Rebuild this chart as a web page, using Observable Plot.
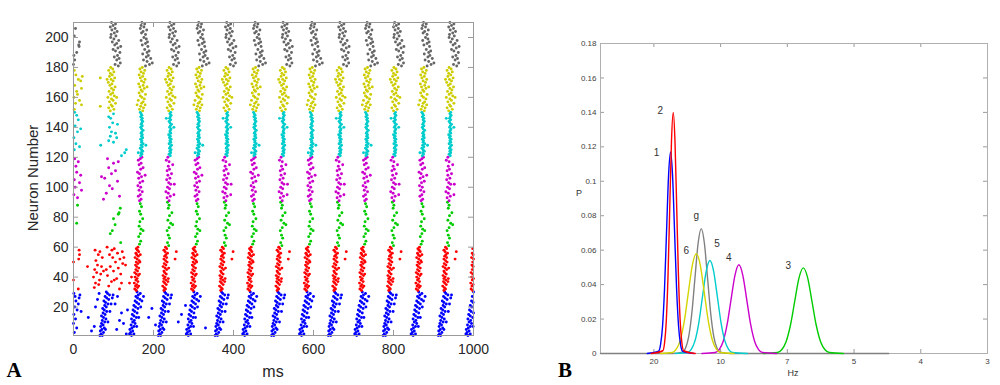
<!DOCTYPE html>
<html><head><meta charset="utf-8">
<script src="https://cdn.jsdelivr.net/npm/d3@7"></script>
<script src="https://cdn.jsdelivr.net/npm/@observablehq/plot@0.6"></script>
<style>
html,body{margin:0;padding:0;background:#fff;}
#wrap{position:relative;width:1000px;height:385px;overflow:hidden;font-family:"Liberation Sans",Arial,sans-serif;}
.panel{position:absolute;top:0;}
.lbl{position:absolute;white-space:nowrap;transform:translate(-50%,-50%);line-height:1;}
.plab{font-family:"Liberation Serif","DejaVu Serif",serif;font-weight:bold;font-size:21px;color:#000;}
</style></head><body>
<div id="wrap">
  <div class="panel" id="pa" style="left:0"></div>
  <div class="panel" id="pb" style="left:500px"></div>
  <div class="lbl" style="left:32px;top:178px;font-size:15px;color:#262626;transform:translate(-50%,-50%) rotate(-90deg);">Neuron Number</div>
  <div class="lbl" style="left:273px;top:372px;font-size:16px;color:#262626;">ms</div>
  <div class="lbl plab" style="left:14px;top:370px;">A</div>
  <div class="lbl" style="left:579px;top:193px;font-size:9px;color:#333;">P</div>
  <div class="lbl" style="left:793px;top:373px;font-size:9px;color:#333;">Hz</div>
  <div class="lbl plab" style="left:565px;top:370px;">B</div>
</div>
<script>
// ---------------- Panel A data ----------------
const msTicks = [0, 200, 400, 600, 800, 1000];
const neuronTicks = [20, 40, 60, 80, 100, 120, 140, 160, 180, 200];
const groupKeys = ["1", "2", "3", "4", "5", "6", "g"];
const groupFirstNeuron = [1, 31, 61, 91, 121, 151, 181];

// burst (cycle) times, ms, per group
const blueCycles = [96, 171, 242, 313, 384, 454, 525, 596, 667, 734, 804, 875, 942, 1012];
const redCycles = [171, 242, 313, 384, 454, 525, 596, 667, 734, 804, 875, 942, 1012];
const greenCycles = [171, 242, 313, 384, 454, 525, 596, 667, 734, 804, 875, 942];
const magentaCycles = [171, 242, 313, 384, 454, 525, 596, 667, 734, 804, 875, 942];
const cyanCycles = [171, 242, 313, 384, 454, 525, 596, 667, 734, 804, 875, 942];
const yellowCycles = [96, 171, 242, 313, 384, 454, 525, 596, 667, 734, 804, 875, 942];
const grayCycles = [96, 171, 242, 313, 384, 454, 525, 596, 667, 734, 804, 875, 942];

// typical burst patterns: [neuron within group, ms relative to burst]
const blueA = [[1,-30],[1,-24],[2,-27],[3,-21],[4,-29],[5,-25],[6,-19],[7,-28],[8,-22],[9,-26],[10,-18],[11,-24],[12,-15],[13,-21],[14,-26],[15,-17],[16,-22],[17,-13],[18,-19],[19,-23],[20,-14],[21,-18],[22,-10],[23,-16],[24,-20],[25,-8],[26,-13],[27,-17],[28,-6],[29,-11],[30,-14],[22,-2],[26,1],[17,-5],[10,-10],[28,3],[5,-16]];
const blueB = [[1,-26],[2,-31],[2,-20],[3,-28],[4,-23],[5,-30],[6,-25],[7,-20],[8,-27],[9,-17],[10,-23],[11,-19],[12,-26],[13,-14],[14,-20],[15,-24],[16,-12],[17,-18],[18,-22],[19,-10],[20,-16],[21,-20],[22,-8],[23,-13],[24,-17],[25,-5],[26,-11],[27,-15],[28,-9],[29,-4],[30,-12],[24,0],[27,4],[13,-8],[7,-13],[20,-3]];
const redA = [[1,-14],[2,-18],[3,-11],[4,-16],[5,-13],[6,-19],[7,-10],[8,-15],[9,-12],[10,-17],[11,-9],[12,-14],[13,-18],[14,-11],[15,-15],[16,-8],[17,-13],[18,-16],[19,-10],[20,-14],[21,-7],[22,-12],[23,-17],[24,-9],[25,-13],[26,-15],[27,-8],[28,-11],[29,-14],[30,-10],[4,-8],[12,-6],[20,-5],[25,-4]];
const redB = [[1,-16],[2,-12],[3,-15],[4,-19],[5,-10],[6,-14],[7,-17],[8,-11],[9,-16],[10,-13],[11,-18],[12,-10],[13,-14],[14,-16],[15,-9],[16,-13],[17,-18],[18,-11],[19,-15],[20,-8],[21,-12],[22,-16],[23,-9],[24,-14],[25,-11],[26,-7],[27,-13],[28,-16],[29,-9],[30,-12],[7,-6],[16,-4],[22,12],[27,15],[9,-5]];
const greenA = [[2,-6],[4,-3],[7,-8],[9,-4],[12,-2],[14,-7],[17,-5],[19,2],[22,-3],[24,-6],[27,-1],[29,-4],[11,3]];
const greenB = [[1,-4],[3,-7],[6,-2],[8,-5],[11,-8],[13,-3],[16,1],[18,-6],[21,-2],[23,4],[26,-5],[28,-3],[30,-7],[15,6]];
const magentaA = [[1,-6],[2,-2],[4,-9],[5,-4],[7,1],[8,-7],[10,-3],[11,-10],[13,-5],[14,2],[16,-8],[17,-1],[19,-6],[20,-11],[22,-3],[23,3],[25,-7],[26,-2],[28,-9],[29,-4],[30,0],[18,8]];
const magentaB = [[1,-3],[3,-8],[4,0],[6,-5],[7,-11],[9,-2],[10,-7],[12,1],[13,-4],[15,-9],[16,-1],[18,-6],[19,3],[21,-8],[22,-2],[24,-5],[25,6],[27,-3],[28,-10],[30,-6],[12,10],[5,9]];
const cyanA = [[1,-3],[2,0],[3,-2],[4,2],[5,-1],[6,-4],[7,1],[8,-2],[9,3],[10,-1],[11,0],[12,-3],[13,2],[14,-1],[15,1],[16,-2],[17,0],[18,3],[19,-1],[20,-3],[21,1],[22,-2],[23,0],[24,2],[25,-1],[26,1],[27,-3],[28,0],[29,-2],[30,-4],[8,10],[3,-9]];
const cyanB = [[1,0],[2,-3],[3,1],[4,-1],[5,2],[6,-2],[7,0],[8,3],[9,-3],[10,1],[11,-1],[12,2],[13,-2],[14,0],[15,-4],[16,1],[17,-1],[18,0],[19,2],[20,-2],[21,0],[22,3],[23,-1],[24,-3],[25,1],[26,-2],[27,0],[28,2],[29,-1],[30,1],[20,9],[26,-10]];
const yellowA = [[1,-4],[2,5],[3,-8],[4,1],[5,-2],[6,9],[7,-6],[8,3],[9,-1],[10,-10],[11,6],[12,-3],[13,2],[14,-7],[15,4],[16,-1],[17,8],[18,-5],[19,0],[20,-9],[21,3],[22,-2],[23,7],[24,-6],[25,1],[26,-4],[27,5],[28,-8],[29,2],[30,-3],[10,12],[22,-12]];
const yellowB = [[1,2],[2,-6],[3,4],[4,-3],[5,8],[6,-1],[7,3],[8,-9],[9,6],[10,0],[11,-4],[12,9],[13,-7],[14,1],[15,-2],[16,6],[17,-5],[18,3],[19,-8],[20,5],[21,-1],[22,8],[23,-4],[24,2],[25,-7],[26,4],[27,-2],[28,7],[29,-5],[30,1],[5,-12],[17,13]];
const grayA = [[1,16],[2,8],[3,21],[5,12],[6,18],[7,6],[8,14],[10,20],[11,9],[12,3],[13,15],[15,7],[16,12],[17,1],[18,17],[19,5],[21,10],[22,-2],[23,6],[24,13],[25,0],[26,8],[27,-4],[28,3],[29,9],[30,-1],[14,22],[20,-3]];
const grayB = [[1,9],[2,19],[4,13],[5,4],[6,22],[7,11],[8,16],[9,2],[10,13],[11,18],[12,7],[14,15],[15,1],[16,9],[17,14],[18,-2],[19,11],[20,5],[22,9],[23,-1],[24,3],[25,12],[26,-4],[27,5],[28,-2],[29,7],[30,0],[3,26]];

// irregular spikes (onset transient and stragglers): [neuron, ms]
const blueExtra = [[3,2],[9,0],[15,1],[20,3],[24,6],[27,4],[29,1],[18,9],[22,12],[26,14],[12,5],[6,8],[28,16],[17,19],[13,37],[7,52],[20,55],[25,60],[29,64],[4,45],[5,108],[11,115],[16,120],[22,104],[9,125],[27,110],[2,132],[18,135],[13,188],[19,196],[8,205],[10,262],[15,270],[6,330],[21,280]];
const redExtra = [[50,0],[38,0],[52,13],[55,15],[58,14],[32,12],[47,35],[33,52],[36,55],[40,50],[43,58],[45,53],[48,60],[51,56],[55,62],[58,54],[38,65],[42,68],[47,70],[53,72],[57,66],[35,63],[44,75],[34,88],[37,95],[41,85],[44,100],[47,92],[50,105],[53,98],[56,110],[59,102],[32,115],[36,120],[39,108],[42,118],[46,112],[49,123],[52,116],[55,90],[58,96],[60,84],[45,82],[38,102],[53,126],[48,130],[57,122],[36,140],[40,145]];
const greenExtra = [[76,8],[88,10],[69,92],[75,104],[82,112],[83,114],[71,97],[86,117],[63,118],[79,100]];
const magentaExtra = [[95,1],[100,4],[105,2],[110,8],[114,6],[119,3],[117,12],[103,15],[98,20],[108,18],[93,10],[92,75],[96,82],[101,90],[106,78],[109,95],[113,88],[116,100],[119,85],[111,105],[104,110],[99,97],[94,115],[117,112],[107,70]];
const cyanExtra = [[125,2],[129,6],[133,1],[137,10],[141,4],[145,12],[148,8],[150,3],[127,15],[139,18],[128,68],[131,88],[134,92],[137,95],[140,90],[143,98],[146,93],[149,100],[136,105],[142,110],[147,88],[121,120],[123,128],[125,132],[130,100],[133,108]];
const yellowExtra = [[152,2],[156,5],[160,1],[164,8],[168,3],[172,12],[175,6],[178,2],[171,18],[158,15],[166,20],[174,22],[162,10],[155,20],[173,67],[154,67]];
const grayExtra = [[182,0],[185,3],[190,8],[195,13],[197,15],[194,14],[206,5],[201,2],[188,1]];

// ---------------- Panel B data ----------------
const periodTicks = [50, 100, 150, 200, 250, 300];        // ms per cycle
const hzTickLabels = ["20", "10", "7", "5", "4", "3"];
const pTicks = [0, 0.02, 0.04, 0.06, 0.08, 0.1, 0.12, 0.14, 0.16, 0.18];
const curveNames = ["g", "3", "4", "5", "6", "1", "2"];
// [period (ms), P]
const curveGray = [[10,0],[64,0],[71.4,0.0008],[73.75,0.0032],[76.1,0.0098],[78.45,0.0235],[80.8,0.044],[83.15,0.064],[85.5,0.0725],[87.85,0.064],[90.2,0.044],[92.55,0.0235],[94.9,0.0098],[97.25,0.0032],[99.6,0.0008],[107,0],[226,0]];
const curve3 = [[132,0],[142.5,0.0006],[145.75,0.0022],[149,0.0067],[152.25,0.0161],[155.5,0.0301],[158.75,0.0439],[162,0.0497],[165.25,0.0439],[168.5,0.0301],[171.75,0.0161],[175,0.0067],[178.25,0.0022],[181.5,0.0006],[192,0]];
const curve4 = [[86,0],[96,0.0006],[98.95,0.0023],[101.9,0.007],[104.85,0.0167],[107.8,0.0312],[110.75,0.0454],[113.7,0.0515],[116.65,0.0454],[119.6,0.0312],[122.55,0.0167],[125.5,0.007],[128.45,0.0023],[131.4,0.0006],[142,0]];
const curve5 = [[66,0],[75.2,0.0006],[78,0.0024],[80.8,0.0073],[83.6,0.0175],[86.4,0.0328],[89.2,0.0477],[92,0.054],[94.8,0.0477],[97.6,0.0328],[100.4,0.0175],[103.2,0.0073],[106,0.0024],[108.8,0.0006],[120,0]];
const curve6 = [[55,0],[63.8,0.0006],[66.8,0.0025],[69.8,0.0078],[72.8,0.0188],[75.8,0.0352],[78.8,0.0512],[81.8,0.058],[84.8,0.0512],[87.8,0.0352],[90.8,0.0188],[93.8,0.0078],[96.8,0.0025],[99.8,0.0006],[110,0]];
const curve1 = [[45,0],[53.5,0.0013],[55,0.0051],[56.5,0.0158],[58,0.038],[59.5,0.071],[61,0.1033],[62.5,0.117],[64,0.1033],[65.5,0.071],[67,0.038],[68.5,0.0158],[70,0.0051],[71.5,0.0013],[80,0]];
const curve2 = [[48,0],[56.7,0.0016],[58,0.0061],[59.3,0.0189],[60.6,0.0455],[61.9,0.0849],[63.2,0.1236],[64.5,0.14],[65.8,0.1236],[67.1,0.0849],[68.4,0.0455],[69.7,0.0189],[71,0.0061],[72.3,0.0016],[81,0]];

// ---------------- styles ----------------
const rasterColors = ["#0000ff", "#ff0000", "#00cc00", "#cc00cc", "#00cccc", "#cccc00", "#666666"];
const curveColors = {"g": "#808080", "3": "#00cc00", "4": "#cc00cc", "5": "#00cccc", "6": "#d4d400", "1": "#0000ff", "2": "#ff0000"};
const labelOffsets = {"1": [-14, 1], "2": [-13, -2], "6": [-10, -3], "g": [-5, -13], "5": [7, -17], "4": [-10, -7], "3": [-15, -2]};
const frameColor = "#9a9a9a";

// ---------------- build Panel A ----------------
const groupDefs = [
  [blueCycles, [blueA, blueB], blueExtra],
  [redCycles, [redA, redB], redExtra],
  [greenCycles, [greenA, greenB], greenExtra],
  [magentaCycles, [magentaA, magentaB], magentaExtra],
  [cyanCycles, [cyanA, cyanB], cyanExtra],
  [yellowCycles, [yellowA, yellowB], yellowExtra],
  [grayCycles, [grayA, grayB], grayExtra]
];
const spikes = [];
groupDefs.forEach(([cycles, templates, extra], gi) => {
  const first = groupFirstNeuron[gi];
  cycles.forEach((T, ci) => {
    templates[ci % templates.length].forEach(([k, off]) => {
      spikes.push({t: T + off, n: first + k - 1, g: groupKeys[gi]});
    });
  });
  extra.forEach(([n, t]) => spikes.push({t, n, g: groupKeys[gi]}));
});
const spikesShown = spikes.filter(d => d.t >= 0 && d.t <= 1000);

const WA = 490, HA = 385, mlA = 73, mrA = 17, mtA = 22, mbA = 50;
const ihA = HA - mtA - mbA, iwA = WA - mlA - mrA;
const plotA = Plot.plot({
  width: WA, height: HA, marginLeft: mlA, marginRight: mrA, marginTop: mtA, marginBottom: mbA,
  style: {fontFamily: '"Liberation Sans", Arial, sans-serif', fontSize: "14px", color: "#262626", background: "transparent", overflow: "visible"},
  x: {domain: [0, 1000], ticks: msTicks, tickFormat: d => String(d), tickSize: 0, tickPadding: 9, label: null},
  y: {domain: [1, 210], ticks: neuronTicks, tickFormat: d => String(d), tickSize: 0, tickPadding: 5, label: null},
  color: {domain: groupKeys, range: rasterColors},
  marks: [
    Plot.dot(spikesShown, {x: "t", y: "n", r: 1.45, fill: "g"}),
    Plot.tickX(msTicks, {x: d => d, stroke: frameColor, insetTop: ihA - 5}),
    Plot.tickX(msTicks, {x: d => d, stroke: frameColor, insetBottom: ihA - 5}),
    Plot.tickY(neuronTicks, {y: d => d, stroke: frameColor, insetRight: iwA - 5}),
    Plot.tickY(neuronTicks, {y: d => d, stroke: frameColor, insetLeft: iwA - 5}),
    Plot.frame({stroke: frameColor})
  ]
});
document.getElementById("pa").appendChild(plotA);

// ---------------- build Panel B ----------------
const curveArrays = {"g": curveGray, "3": curve3, "4": curve4, "5": curve5, "6": curve6, "1": curve1, "2": curve2};
const WB = 500, HB = 385, mlB = 100, mrB = 13, mtB = 43, mbB = 32;
const ihB = HB - mtB - mbB, iwB = WB - mlB - mrB;
const marksB = [
  Plot.tickX(periodTicks, {x: d => d, stroke: frameColor, insetTop: ihB - 4}),
  Plot.tickX(periodTicks, {x: d => d, stroke: frameColor, insetBottom: ihB - 4}),
  Plot.tickY(pTicks, {y: d => d, stroke: frameColor, insetRight: iwB - 4}),
  Plot.tickY(pTicks, {y: d => d, stroke: frameColor, insetLeft: iwB - 4}),
  Plot.frame({stroke: "#b0b0b0"})
];
curveNames.forEach(name => {
  const pts = curveArrays[name];
  marksB.push(Plot.line(pts, {x: d => d[0], y: d => d[1], stroke: curveColors[name], strokeWidth: 1.4, curve: "monotone-x"}));
});
curveNames.forEach(name => {
  const pk = d3.greatest(curveArrays[name], d => d[1]);
  const [dx, dy] = labelOffsets[name];
  marksB.push(Plot.text([pk], {x: d => d[0], y: d => d[1], text: () => name, dx, dy, fontSize: 10, fill: "#333"}));
});
const plotB = Plot.plot({
  width: WB, height: HB, marginLeft: mlB, marginRight: mrB, marginTop: mtB, marginBottom: mbB,
  style: {fontFamily: '"Liberation Sans", Arial, sans-serif', fontSize: "8px", color: "#404040", background: "transparent", overflow: "visible"},
  x: {domain: [10, 300], ticks: periodTicks, tickFormat: d => hzTickLabels[periodTicks.indexOf(d)], tickSize: 0, tickPadding: 5, label: null},
  y: {domain: [0, 0.18], ticks: pTicks, tickFormat: d => String(+d.toFixed(2)), tickSize: 0, tickPadding: 4, label: null},
  marks: marksB
});
document.getElementById("pb").appendChild(plotB);
</script>
</body></html>
